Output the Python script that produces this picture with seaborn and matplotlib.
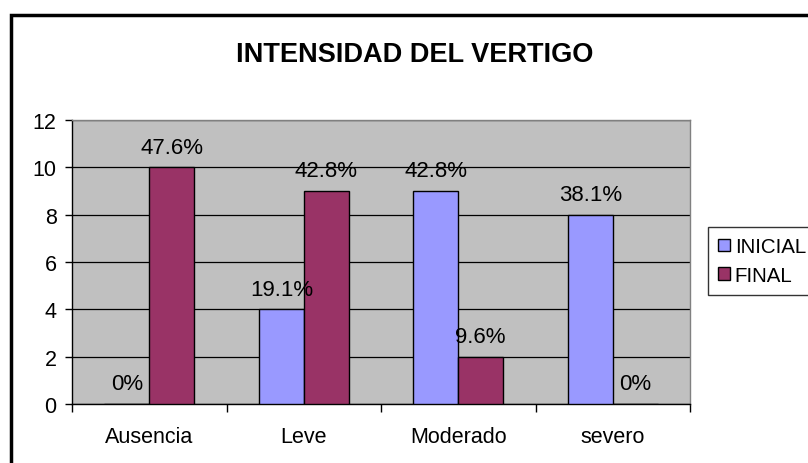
import matplotlib
matplotlib.use("Agg")
import matplotlib.pyplot as plt
import seaborn as sns
import pandas as pd
from matplotlib.patches import Rectangle, Patch

categories = ["Ausencia", "Leve", "Moderado", "severo"]
inicial = [0, 4, 9, 8]
final = [10, 9, 2, 0]
inicial_labels = ["0%", "19.1%", "42.8%", "38.1%"]
final_labels = ["47.6%", "42.8%", "9.6%", "0%"]
series = ["INICIAL", "FINAL"]
colors = ["#9999FF", "#993366"]

df = pd.DataFrame({
    "cat": categories * 2,
    "val": inicial + final,
    "serie": ["INICIAL"] * 4 + ["FINAL"] * 4,
})

sns.set_style("white")
plt.rcParams["font.family"] = ["Liberation Sans", "DejaVu Sans"]
plt.rcParams["text.color"] = "black"
plt.rcParams["xtick.color"] = "black"
plt.rcParams["ytick.color"] = "black"
plt.rcParams["axes.labelcolor"] = "black"

fig = plt.figure(figsize=(8.08, 4.64), dpi=100)
ax = fig.add_axes([72/808, 1-405/464, (690-72)/808, (405-121)/464])
ax.set_facecolor("#C0C0C0")

sns.barplot(data=df, x="cat", y="val", hue="serie", palette=colors,
            width=0.58, gap=0, edgecolor="black", linewidth=1,
            saturation=1, ax=ax, legend=False, zorder=3)

ax.set_ylim(0, 12)
ax.set_xlim(-0.5, 3.5)
ax.set_yticks(range(0, 13, 2))
ax.yaxis.grid(True, color="black", linewidth=0.9, zorder=1)
ax.set_axisbelow(True)
ax.set_xlabel("")
ax.set_ylabel("")
ax.tick_params(axis="y", length=5, width=1, direction="out", labelsize=15.5, left=True, colors="black", pad=6)
ax.tick_params(axis="x", length=0, labelsize=15.5, pad=16, colors="black")
ax.set_xticks(range(4))
ax.set_xticklabels(categories)
ax.set_xticks([-0.5, 0.5, 1.5, 2.5, 3.5], minor=True)
ax.tick_params(axis="x", which="minor", length=6, width=1, direction="out", bottom=True)
for s in ["top", "right"]:
    ax.spines[s].set_color("#808080")
    ax.spines[s].set_linewidth(1)
for s in ["left", "bottom"]:
    ax.spines[s].set_color("black")
    ax.spines[s].set_linewidth(1)

# data labels
for cont, labels in zip(ax.containers, [inicial_labels, final_labels]):
    ax.bar_label(cont, labels=labels, padding=7, fontsize=16, color="black")

fig.text(415/808, 1-55/464, "INTENSIDAD DEL VERTIGO", ha="center", va="center",
         fontsize=19.5, fontweight="bold", color="black")

handles = [Patch(facecolor=c, edgecolor="black", linewidth=1) for c in colors]
leg = fig.legend(handles, series, loc="center left", bbox_to_anchor=(708/808, 1-262/464),
                 frameon=True, fancybox=False, edgecolor="black", fontsize=14.8,
                 handlelength=0.55, handleheight=0.55, handletextpad=0.25,
                 borderpad=0.5, borderaxespad=0, labelspacing=0.45)
leg.get_frame().set_linewidth(1)
for t in leg.get_texts():
    t.set_color("black")

fig.patches.append(Rectangle((11/808, -0.1), 1.2, 1-16/464+0.1, transform=fig.transFigure,
                             fill=False, edgecolor="black", linewidth=2.5))

fig.savefig("out.png", dpi=100)
